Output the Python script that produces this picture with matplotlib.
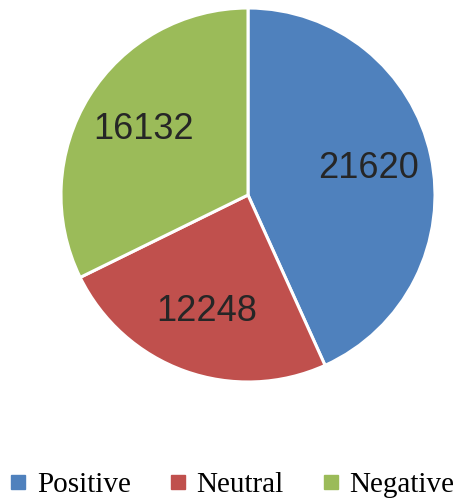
import matplotlib
matplotlib.use("Agg")
import matplotlib.pyplot as plt
from matplotlib.lines import Line2D

categories = ["Positive", "Neutral", "Negative"]
values = [21620, 12248, 16132]
colors = ["#4F81BD", "#C0504D", "#9BBB59"]

total = sum(values)

fig = plt.figure(figsize=(4.64, 5.0), dpi=100)
ax = fig.add_axes([61/464, 118/500, 374/464, 374/500])
wedges, texts, autotexts = ax.pie(
    values, colors=colors, startangle=90, counterclock=False,
    autopct=lambda p: f"{round(p * total / 100)}", pctdistance=0.66,
    wedgeprops=dict(edgecolor="white", linewidth=2.2),
    textprops=dict(fontsize=26, color="#262626", family="Liberation Sans"),
)
ax.set_xlim(-1.0, 1.0)
ax.set_ylim(-1.0, 1.0)
ax.set_aspect("equal")

handles = [Line2D([0], [0], marker="s", linestyle="none", markersize=10,
                  markerfacecolor=c, markeredgecolor=c) for c in colors]
fig.legend(handles, categories, loc="center", bbox_to_anchor=(0.5, 15/500),
           ncol=3, frameon=False, prop=dict(family="Liberation Serif", size=21),
           handlelength=0.6, handletextpad=0.35, columnspacing=1.3,
           borderaxespad=0, borderpad=0)

fig.savefig("out.png", dpi=100)
